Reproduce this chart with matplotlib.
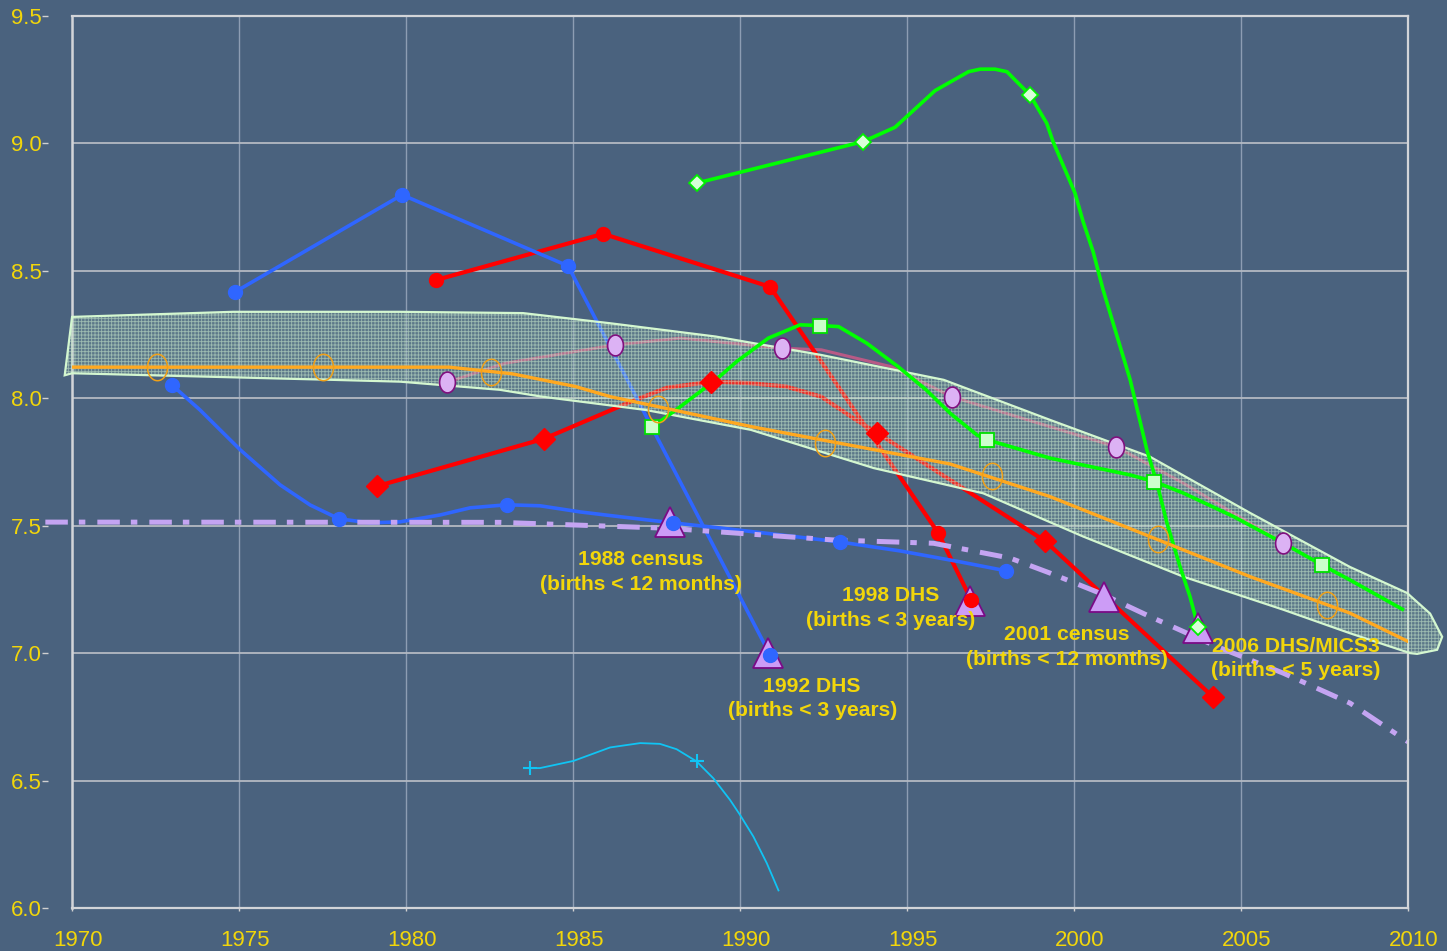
import numpy as np
import matplotlib
matplotlib.use("Agg")
import matplotlib.pyplot as plt
from matplotlib.path import Path
from matplotlib.patches import Polygon
import matplotlib.transforms as mtransforms

plt.rcParams['font.family'] = ['Liberation Sans', 'DejaVu Sans']

# ---- data ----
years_ticks = [1970, 1975, 1980, 1985, 1990, 1995, 2000, 2005, 2010]
y_ticks = [6.0, 6.5, 7.0, 7.5, 8.0, 8.5, 9.0, 9.5]

# blue, straight segments (filled circles)
blue1_x = [1974.88, 1979.88, 1984.85, 1990.90]
blue1_y = [8.417, 8.798, 8.519, 6.993]

# blue, smooth curve
blue2_x = [1972.99, 1973.83, 1975.04, 1976.23, 1977.13, 1977.99, 1978.92, 1979.82,
           1981.02, 1981.92, 1983.02, 1984.01, 1985.21, 1986.41, 1987.99, 1989.40,
           1991.20, 1992.99, 1994.79, 1996.59, 1997.96]
blue2_y = [8.052, 7.954, 7.797, 7.660, 7.581, 7.527, 7.511, 7.515,
           7.542, 7.570, 7.582, 7.578, 7.554, 7.535, 7.511, 7.491,
           7.464, 7.436, 7.401, 7.358, 7.323]
blue2_mx = [1972.99, 1977.99, 1983.02, 1987.99, 1992.99, 1997.96]
blue2_my = [8.052, 7.527, 7.582, 7.511, 7.436, 7.323]

# red circles
red1_x = [1980.90, 1985.90, 1990.90, 1995.93, 1996.92]
red1_y = [8.464, 8.645, 8.437, 7.472, 7.209]

# red diamonds
red2_x = [1979.13, 1984.13, 1986.65, 1987.80, 1989.13, 1990.32, 1991.37, 1992.43,
          1993.47, 1994.10, 1999.13, 2004.16]
red2_y = [7.655, 7.841, 7.982, 8.041, 8.065, 8.059, 8.046, 8.006,
          7.915, 7.864, 7.440, 6.828]
red2_mx = [1979.13, 1984.13, 1989.13, 1994.10, 1999.13, 2004.16]
red2_my = [7.655, 7.841, 8.065, 7.864, 7.440, 6.828]

# green diamonds
green1_x = [1988.70, 1993.69, 1994.64, 1995.84, 1996.84, 1997.19, 1997.63, 1997.99,
            1998.23, 1998.68, 1999.18, 1999.37, 2000.03, 2000.27, 2000.57, 2000.87,
            2001.23, 2001.68, 2002.18, 2002.48, 2002.78, 2003.17, 2003.47, 2003.71]
green1_y = [8.844, 9.007, 9.063, 9.207, 9.281, 9.291, 9.291, 9.281,
            9.249, 9.190, 9.079, 9.007, 8.804, 8.693, 8.575, 8.425,
            8.268, 8.072, 7.797, 7.668, 7.511, 7.340, 7.222, 7.104]
green1_mx = [1988.70, 1993.69, 1998.68, 2003.71]
green1_my = [8.844, 9.007, 9.190, 7.104]

# green squares
green2_x = [1987.36, 1988.11, 1989.27, 1989.90, 1990.85, 1991.80, 1992.39, 1992.95,
            1993.79, 1994.73, 1995.57, 1996.29, 1997.09, 1997.39, 1999.28, 2001.68,
            2002.40, 2003.27, 2004.77, 2006.27, 2007.42, 2008.26, 2009.83]
green2_y = [7.886, 7.957, 8.072, 8.144, 8.236, 8.288, 8.285, 8.281,
            8.216, 8.124, 8.033, 7.941, 7.856, 7.837, 7.765, 7.699,
            7.673, 7.628, 7.536, 7.431, 7.346, 7.287, 7.172]
green2_mx = [1987.36, 1992.39, 1997.39, 2002.40, 2007.42]
green2_my = [7.886, 8.285, 7.837, 7.673, 7.346]

# lilac ellipses with rosy line
lilac_x = [1981.24, 1982.96, 1986.25, 1988.22, 1991.27, 1992.43, 1994.52, 1996.34,
           1998.28, 2001.25, 2003.27, 2006.27]
lilac_y = [8.063, 8.137, 8.209, 8.236, 8.196, 8.190, 8.124, 8.006,
           7.928, 7.810, 7.667, 7.431]
lilac_mx = [1981.24, 1986.25, 1991.27, 1996.34, 2001.25, 2006.27]
lilac_my = [8.063, 8.209, 8.196, 8.006, 7.810, 7.431]

# orange fitted line and hollow markers
orange_x = [1970.0, 1981.29, 1983.17, 1985.07, 1986.12, 1987.54, 1990.32, 1992.43,
            1996.29, 1999.28, 2002.28, 2005.27, 2008.26, 2010.01]
orange_y = [8.122, 8.122, 8.096, 8.046, 8.006, 7.967, 7.889, 7.837,
            7.742, 7.614, 7.457, 7.300, 7.157, 7.045]
orange_mx = [1972.54, 1977.52, 1982.54, 1987.54, 1992.55, 1997.54, 2002.52, 2007.57]
orange_my = [8.122, 8.122, 8.101, 7.957, 7.826, 7.693, 7.447, 7.189]

# lavender dash-dot line
lav_x = [1969.20, 1982.81, 1987.81, 1992.79, 1995.79, 1998.08, 1999.28, 2000.78,
         2002.28, 2004.27, 2006.27, 2008.26, 2010.0]
lav_y = [7.514, 7.513, 7.490, 7.444, 7.431, 7.373, 7.314, 7.235,
         7.143, 7.026, 6.921, 6.804, 6.652]

# survey triangles
tri_x = [1987.90, 1990.83, 1996.89, 2000.91, 2003.72]
tri_y = [7.515, 6.999, 7.205, 7.222, 7.098]

# cyan thin line
cyan_x = [1983.56, 1983.71, 1984.01, 1985.01, 1986.11, 1987.01, 1987.60, 1988.10,
          1988.70, 1989.20, 1989.70, 1990.00, 1990.40, 1990.80, 1991.15]
cyan_y = [6.549, 6.549, 6.549, 6.577, 6.630, 6.647, 6.644, 6.623,
          6.575, 6.509, 6.424, 6.365, 6.280, 6.176, 6.069]
cyan_mx = [1983.71, 1988.70]
cyan_my = [6.549, 6.575]

# envelope band
band_up_x = [1970.0, 1974.82, 1979.82, 1983.50, 1986.12, 1989.27, 1992.42, 1996.10,
             1999.28, 2002.28, 2005.27, 2008.26, 2009.97, 2010.66, 2011.02, 2010.87, 2010.27]
band_up_y = [8.319, 8.339, 8.339, 8.334, 8.294, 8.242, 8.170, 8.072,
             7.915, 7.770, 7.550, 7.338, 7.236, 7.155, 7.064, 7.013, 6.997]
band_lo_x = [2010.06, 2008.26, 2006.27, 2003.27, 2000.28, 1997.28, 1994.00, 1990.32,
             1987.17, 1984.02, 1982.81, 1979.82, 1977.82, 1970.0, 1969.78]
band_lo_y = [7.000, 7.078, 7.170, 7.300, 7.457, 7.627, 7.726, 7.876,
             7.954, 8.007, 8.033, 8.065, 8.072, 8.098, 8.090]

labels = ["1988 census\n(births < 12 months)", "1992 DHS\n(births < 3 years)",
          "1998 DHS\n(births < 3 years)", "2001 census\n(births < 12 months)",
          "2006 DHS/MICS3\n(births < 5 years)"]
label_x = [1987.03, 1992.16, 1994.52, 1999.79, 2006.65]
label_y = [7.317, 6.822, 7.178, 7.025, 6.979]

BG = '#4a627e'
YEL = '#f2d60a'

# ellipse marker (taller than wide)
t = np.linspace(0, 2 * np.pi, 60)
ellipse = Path(np.column_stack([0.76 * np.cos(t), np.sin(t)]), closed=True)

fig = plt.figure(figsize=(14.47, 9.51), dpi=100, facecolor=BG)
ax = fig.add_axes([0.0498, 0.0452, 0.9233, 0.9381], facecolor=BG)

ax.set_xlim(1970, 2010)
ax.set_ylim(6.0, 9.5)
ax.set_xticks(years_ticks)
ax.set_yticks(y_ticks)
ax.set_yticklabels([f"{v:.1f}" for v in y_ticks])

ax.xaxis.grid(True, color='#8d9db3', lw=1.0)
ax.yaxis.grid(True, color='#b4b9c2', lw=1.3)
ax.set_axisbelow(True)

for s in ['top', 'right', 'bottom']:
    ax.spines[s].set_color('#d2d4d8')
    ax.spines[s].set_linewidth(1.6)
ax.spines['left'].set_position(('outward', 17))
ax.spines['left'].set_visible(False)
ax.axvline(1970, color='#d2d4d8', lw=1.8, clip_on=False, zorder=1.5)

ax.tick_params(axis='y', colors='#d0d0d0', length=4.5, width=1, pad=0.5,
               labelsize=16, labelcolor=YEL)
ax.tick_params(axis='x', colors='#d0d0d0', length=2.5, width=1, pad=13.5,
               labelsize=16, labelcolor=YEL)
off = mtransforms.ScaledTranslation(6 / 100, 0, fig.dpi_scale_trans)
for lab in ax.get_xticklabels():
    lab.set_transform(lab.get_transform() + off)

# lines under the band
ax.plot(lilac_x, lilac_y, color='#b85a86', lw=2.2, zorder=2)
ax.plot(red1_x, red1_y, color='#ff0000', lw=3.0, zorder=2)
ax.plot(red2_x, red2_y, color='#ff0000', lw=3.0, zorder=2)
ax.plot(blue1_x, blue1_y, color='#2f66ff', lw=2.6, zorder=2)
ax.plot(blue2_x, blue2_y, color='#2f66ff', lw=2.6, zorder=2)
ax.plot(lav_x, lav_y, color='#c4a4f2', lw=3.6, dashes=(4.5, 2.2, 1.3, 2.4),
        zorder=2, clip_on=False)
ax.plot(cyan_x, cyan_y, color='#10c4f4', lw=1.3, zorder=2)

# band
band_x = band_up_x + band_lo_x
band_y = band_up_y + band_lo_y
verts = np.column_stack([band_x, band_y])
plt.rcParams['hatch.linewidth'] = 0.6
ax.add_patch(Polygon(verts, closed=True, facecolor=(0.62, 0.78, 0.70, 0.22),
                     edgecolor=(0.82, 0.95, 0.82, 0.55), lw=0, hatch='+++++',
                     zorder=3, clip_on=False))
ax.add_patch(Polygon(verts, closed=True, facecolor='none', edgecolor='#d4f7d0',
                     lw=1.6, zorder=3.1, clip_on=False))

# lines over the band
ax.plot(green1_x, green1_y, color='#00ff00', lw=2.6, zorder=4)
ax.plot(green2_x, green2_y, color='#00ff00', lw=2.6, zorder=4)
ax.plot(orange_x, orange_y, color='#ffa820', lw=2.4, zorder=4)

# markers
ax.plot(tri_x, tri_y, ls='none', marker='^', ms=21, mfc='#cc9cf6', mec='#7a0a86',
        mew=1.3, zorder=5)
ax.plot(blue1_x, blue1_y, ls='none', marker='o', ms=10, mfc='#2f66ff', mec='#2f66ff', zorder=6)
ax.plot(blue2_mx, blue2_my, ls='none', marker='o', ms=10, mfc='#2f66ff', mec='#2f66ff', zorder=6)
ax.plot(red1_x, red1_y, ls='none', marker='o', ms=10, mfc='#ff0000', mec='#ff0000', zorder=6)
ax.plot(red2_mx, red2_my, ls='none', marker='D', ms=11.5, mfc='#ff0000', mec='#ff0000', zorder=6)
ax.plot(green1_mx, green1_my, ls='none', marker='D', ms=8.5, mfc='#d8ffd8', mec='#00ee00',
        mew=1.3, zorder=6)
ax.plot(green2_mx, green2_my, ls='none', marker='s', ms=10, mfc='#ccffcc', mec='#00e000',
        mew=1.3, zorder=6)
ax.plot(lilac_mx, lilac_my, ls='none', marker=ellipse, ms=15, mfc='#dcb2f4', mec='#80107e',
        mew=1.2, zorder=6)
ax.plot(orange_mx, orange_my, ls='none', marker=ellipse, ms=19, mfc='none', mec='#f0a018',
        mew=1.1, zorder=6)
ax.plot(cyan_mx, cyan_my, ls='none', marker='+', ms=10, mec='#10c4f4', mew=1.5, zorder=6)

for txt, x, y in zip(labels, label_x, label_y):
    ax.text(x, y, txt, ha='center', va='center', color=YEL, fontsize=15.2,
            fontweight='bold', linespacing=1.38, zorder=7)

fig.savefig("out.png", dpi=100, facecolor=BG)
